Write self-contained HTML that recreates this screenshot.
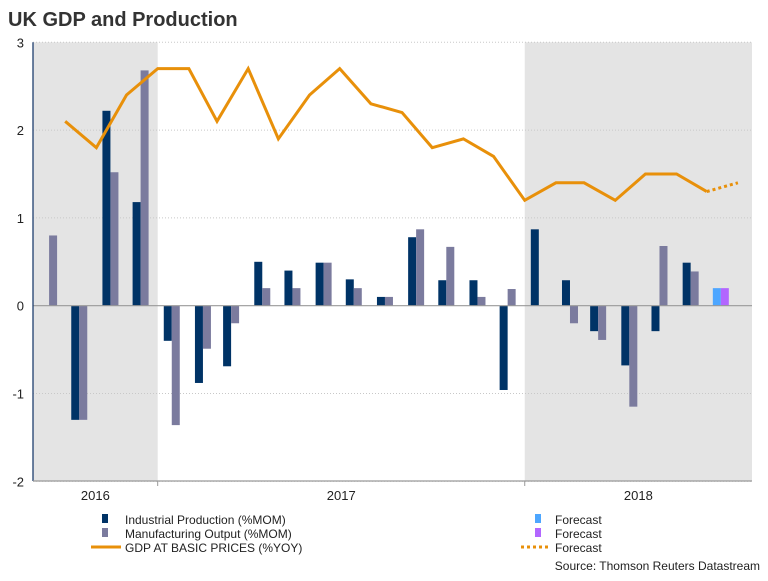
<!DOCTYPE html>
<html><head><meta charset="utf-8"><style>
body{margin:0;background:#fff;font-family:"Liberation Sans",sans-serif}
svg text{font-family:"Liberation Sans",sans-serif}
</style></head><body>
<svg id="c" width="768" height="576">
<text x="8" y="26" font-size="20" font-weight="bold" fill="#333">UK GDP and Production</text>
</svg>
<script>
const months = ["2016-09","2016-10","2016-11","2016-12","2017-01","2017-02","2017-03","2017-04","2017-05","2017-06","2017-07","2017-08","2017-09","2017-10","2017-11","2017-12","2018-01","2018-02","2018-03","2018-04","2018-05","2018-06","2018-07"];
const industrial = [0,-1.3,2.22,1.18,-0.4,-0.88,-0.69,0.5,0.4,0.49,0.3,0.1,0.78,0.29,0.29,-0.96,0.87,0.29,-0.29,-0.68,-0.29,0.49,0.2];
const manufacturing = [0.8,-1.3,1.52,2.68,-1.36,-0.49,-0.2,0.2,0.2,0.49,0.2,0.1,0.87,0.67,0.1,0.19,0,-0.2,-0.39,-1.15,0.68,0.39,0.2];
const gdpDates = ["2016-10-01","2016-11-01","2016-12-01","2017-01-01","2017-02-01","2017-03-01","2017-04-01","2017-05-01","2017-06-01","2017-07-01","2017-08-01","2017-09-01","2017-10-01","2017-11-01","2017-12-01","2018-01-01","2018-02-01","2018-03-01","2018-04-01","2018-05-01","2018-06-01","2018-07-01","2018-08-01"];
const gdp = [2.1,1.8,2.4,2.7,2.7,2.1,2.7,1.9,2.4,2.7,2.3,2.2,1.8,1.9,1.7,1.2,1.4,1.4,1.2,1.5,1.5,1.3,1.4];
const yTicks = [3,2,1,0,-1,-2];
const years = ["2016","2017","2018"];

const svg = document.getElementById('c');
const NS = 'http://www.w3.org/2000/svg';
const L=33,R=752,T=42.3,B=481;
const t0=Date.parse("2016-08-30"), t1=Date.parse("2018-08-15");
const xs = d => L + (Date.parse(d)-t0)/(t1-t0)*(R-L);
const ys = v => 305.7 - v*87.8;
function mk(tag, attrs){const e=document.createElementNS(NS,tag);for(const k in attrs)e.setAttribute(k,attrs[k]);svg.appendChild(e);return e;}

// shaded years
let s1=mk('rect',{x:L,y:T,width:xs("2017-01-01")-L,height:B-T,fill:'#e4e4e4'});


let s2=mk('rect',{x:xs("2018-01-01"),y:T,width:R-xs("2018-01-01"),height:B-T,fill:'#e4e4e4'});



// grid + y labels
yTicks.forEach(v=>{
  if(v!==0){let g=mk('line',{x1:L,x2:R,y1:ys(v),y2:ys(v),stroke:'#c8c8c8','stroke-dasharray':'1,2'});
  
  }
  let t=mk('text',{x:24,y:ys(v)+5,'text-anchor':'end','font-size':13,fill:'#222'});
  
  
  t.textContent = v<0 ? '-'+Math.abs(v) : v;
});

// bars
months.forEach((m,i)=>{
  const c = xs(m+"-15");
  const fc = i===months.length-1;
  const y0=ys(0);
  [[industrial[i], c-8, fc?'#4da6ff':'#003366','industrial-bar'],[manufacturing[i], c, fc?'#b266ff':'#7b7b9e','manufacturing-bar']].forEach(([v,x,col,nm])=>{
    if(v===0) return;
    const y=ys(v);
    let r=mk('rect',{x:x,y:Math.min(y,y0),width:8,height:Math.abs(y-y0),fill:col});
    
    
  });
});

// zero line
let z=mk('line',{x1:L,x2:R,y1:ys(0),y2:ys(0),stroke:'#999','stroke-width':1.2});



// gdp line
const pts = gdpDates.map((d,i)=>xs(d)+','+ys(gdp[i]));
let ln=mk('polyline',{points:pts.slice(0,-1).join(' '),fill:'none',stroke:'#e8900a','stroke-width':3,'stroke-linejoin':'miter'});


let fl=mk('polyline',{points:pts.slice(-2).join(' '),fill:'none',stroke:'#e8900a','stroke-width':3,'stroke-dasharray':'3,3'});



// axes
let ya=mk('line',{x1:L,x2:L,y1:T,y2:B,stroke:'#1f3f6e','stroke-width':1.3});


let xa=mk('line',{x1:L,x2:R,y1:B,y2:B,stroke:'#999','stroke-width':1.2});


["2017-01-01","2018-01-01"].forEach(d=>{
  let tk=mk('line',{x1:xs(d),x2:xs(d),y1:B,y2:B+5,stroke:'#999'});
  
  
});
const yc=[(L+xs("2017-01-01"))/2,(xs("2017-01-01")+xs("2018-01-01"))/2,(xs("2018-01-01")+R)/2];
years.forEach((y,i)=>{
  let t=mk('text',{x:yc[i],y:500,'text-anchor':'middle','font-size':13,fill:'#222'});
  
  
  t.textContent=y;
});

// legend
function legText(x,y,s){let t=mk('text',{x:x,y:y,'font-size':12,fill:'#222',textLength:0});t.removeAttribute('textLength');

t.textContent=s;return t;}
const rows=[524,538,552];
[['#003366','Industrial Production (%MOM)'],['#7b7b9e','Manufacturing Output (%MOM)']].forEach(([c,s],i)=>{
  let r=mk('rect',{x:102,y:rows[i]-10,width:6,height:9,fill:c});
  
  
  legText(125,rows[i],s);
});
let lg=mk('line',{x1:91,x2:121,y1:rows[2]-5,y2:rows[2]-5,stroke:'#e8900a','stroke-width':3});


legText(125,rows[2],'GDP AT BASIC PRICES (%YOY)');
[['#4da6ff'],['#b266ff']].forEach(([c],i)=>{
  let r=mk('rect',{x:535,y:rows[i]-10,width:6,height:9,fill:c});
  
  
  legText(555,rows[i],'Forecast');
});
let lf=mk('line',{x1:521,x2:551,y1:rows[2]-5,y2:rows[2]-5,stroke:'#e8900a','stroke-width':3,'stroke-dasharray':'3,3'});


legText(555,rows[2],'Forecast');
let src=mk('text',{x:760,y:570,'text-anchor':'end','font-size':12,fill:'#222'});


src.textContent='Source: Thomson Reuters Datastream';
</script>
</body></html>
